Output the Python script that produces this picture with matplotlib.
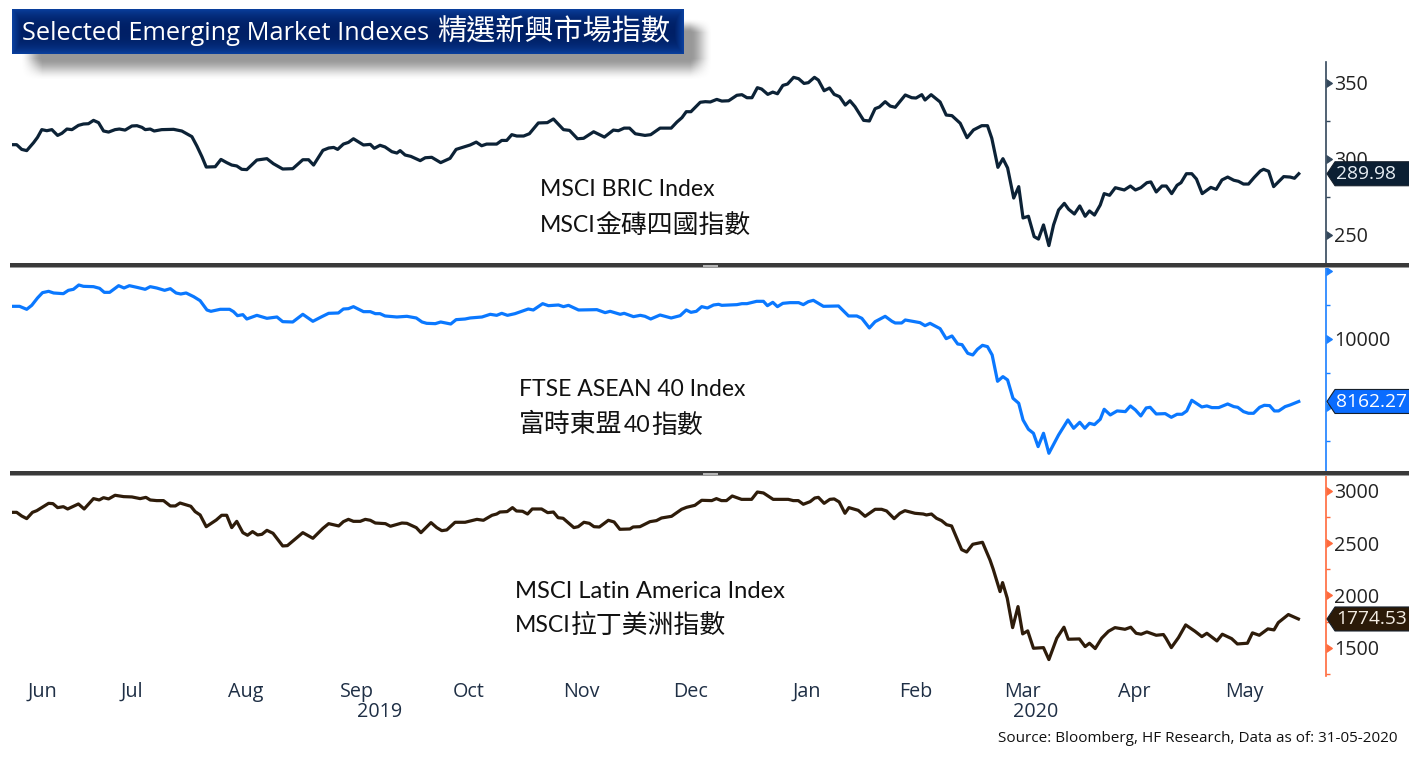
"""
Selected emerging market indexes, three stacked panels (Bloomberg style)
"""
import numpy as np
import matplotlib
matplotlib.use('Agg')
import matplotlib.pyplot as plt
from matplotlib.patches import Polygon, Rectangle

W, H = 1409, 759
LATIN = ['Open Sans', 'Noto Sans CJK TC']
BODY = ['Lato', 'Noto Sans CJK TC']
CJK = ['Noto Sans CJK TC']

# x values are calendar days counted from the left edge of the chart (early Jun 2019)
bric_days = [
    0.0, 1.3, 2.7, 4.1, 6.0, 7.1, 8.3, 9.7, 11.1, 12.7,
    13.9, 15.3, 16.7, 18.5, 19.9, 21.3, 22.7, 24.1, 25.5, 26.9,
    28.7, 29.9, 31.5, 33.4, 34.8, 36.2, 37.1, 38.5, 39.6, 41.7,
    45.0, 47.3, 50.1, 51.5, 52.9, 54.1, 56.6, 58.2, 59.8, 61.2,
    62.6, 64.0, 65.4, 68.2, 71.0, 72.8, 75.4, 78.2, 81.0, 82.6,
    84.0, 86.6, 88.2, 89.6, 90.7, 92.3, 93.7, 95.1, 97.9, 99.8,
    100.9, 102.5, 103.9, 105.8, 107.2, 108.1, 109.5, 111.1, 113.7, 115.1,
    116.9, 119.4, 122.0, 123.7, 127.6, 129.3, 130.8, 132.2, 135.0, 136.4,
    137.8, 139.2, 140.6, 142.5, 144.1, 146.6, 149.1, 150.8, 153.6, 155.3,
    157.5, 159.2, 162.0, 165.0, 167.5, 168.9, 170.5, 172.0, 173.6, 176.3,
    177.9, 180.5, 183.6, 185.2, 186.6, 187.8, 189.1, 191.7, 193.1, 194.5,
    196.3, 197.7, 199.6, 201.9, 203.3, 204.7, 206.1, 207.6, 208.8, 210.5,
    211.9, 213.2, 214.7, 216.0, 217.7, 219.1, 220.6, 221.8, 223.5, 224.6,
    226.2, 227.7, 229.0, 230.5, 232.1, 233.4, 234.8, 237.2, 238.8, 240.4,
    241.6, 243.2, 244.6, 246.0, 248.8, 250.6, 251.8, 253.4, 254.3, 256.0,
    258.5, 260.2, 261.8, 264.1, 266.0, 267.8, 270.1, 271.7, 272.9, 274.6,
    276.0, 277.3, 279.0, 280.4, 281.6, 283.1, 284.7, 285.9, 287.3, 288.8,
    290.1, 291.5, 293.1, 294.3, 295.9, 297.4, 298.9, 300.1, 301.5, 303.1,
    304.2, 305.7, 307.3, 309.8, 311.5, 312.9, 314.4, 316.1, 317.2, 318.7,
    320.3, 321.5, 323.0, 324.5, 325.6, 327.1, 328.6, 329.9, 331.5, 333.9,
    335.4, 337.0, 338.6, 340.3, 341.6, 343.0, 344.4, 346.0, 347.7, 348.6,
    350.0, 351.4, 354.2, 356.0, 357.2, 358.4]
bric_values = [
    309.1, 309.1, 306.0, 305.2, 310.4, 313.9, 319.0, 318.3, 319.0, 315.2,
    316.6, 319.4, 319.0, 321.8, 322.7, 322.9, 325.1, 323.6, 318.1, 317.4,
    319.0, 319.4, 318.7, 321.4, 321.6, 320.5, 319.0, 319.4, 318.1, 319.0,
    319.2, 318.1, 314.4, 308.2, 301.2, 294.4, 294.6, 299.4, 297.3, 295.7,
    295.1, 292.9, 292.7, 299.0, 299.9, 296.6, 293.1, 293.3, 299.2, 299.2,
    295.7, 305.4, 306.9, 307.3, 306.0, 309.5, 310.6, 313.0, 308.9, 309.3,
    306.7, 308.7, 307.6, 304.5, 303.6, 305.2, 302.3, 301.4, 298.6, 300.5,
    300.8, 297.3, 300.1, 306.0, 308.9, 310.8, 308.4, 309.5, 309.5, 311.9,
    311.9, 315.7, 314.8, 314.8, 316.3, 323.4, 323.6, 326.0, 319.0, 318.5,
    313.0, 313.3, 317.6, 314.1, 318.7, 318.3, 320.0, 320.0, 316.3, 315.2,
    315.7, 320.0, 320.0, 324.0, 326.9, 330.8, 330.8, 337.0, 337.4, 337.2,
    338.9, 337.8, 338.0, 341.6, 342.0, 340.0, 340.0, 346.6, 345.7, 342.2,
    343.7, 342.6, 348.1, 349.0, 353.4, 352.5, 349.4, 349.9, 353.4, 351.6,
    344.6, 346.4, 342.2, 340.7, 335.2, 338.0, 334.1, 325.1, 324.7, 332.8,
    333.9, 337.4, 334.5, 333.7, 341.8, 340.0, 339.8, 342.0, 338.5, 342.0,
    337.2, 328.6, 328.2, 323.2, 313.7, 318.8, 321.6, 321.6, 313.3, 294.2,
    299.9, 293.8, 274.0, 281.5, 260.9, 262.0, 248.6, 247.0, 256.3, 242.7,
    256.3, 266.1, 270.5, 266.6, 263.5, 268.8, 262.0, 265.5, 262.8, 269.4,
    276.9, 275.8, 280.8, 279.3, 281.9, 279.3, 280.8, 284.1, 284.6, 278.0,
    281.9, 281.9, 276.9, 282.4, 284.1, 290.0, 290.0, 286.5, 276.9, 281.0,
    279.7, 285.9, 287.8, 285.7, 285.0, 283.2, 283.2, 287.6, 291.8, 292.9,
    291.6, 281.5, 288.1, 287.8, 287.0, 289.98]

asean_days = [
    0.0, 2.1, 4.1, 5.5, 7.1, 8.5, 10.2, 11.6, 14.3, 15.7,
    17.1, 18.6, 19.9, 22.7, 24.4, 25.7, 27.2, 29.7, 31.2, 32.7,
    34.8, 37.1, 38.5, 40.3, 42.5, 44.1, 45.7, 47.0, 48.5, 50.6,
    52.4, 54.3, 55.4, 58.0, 60.6, 61.7, 62.8, 64.3, 65.4, 68.2,
    71.0, 73.8, 75.4, 78.2, 81.0, 83.8, 86.3, 88.2, 90.9, 92.3,
    93.7, 95.1, 97.9, 99.8, 101.2, 102.5, 103.9, 107.2, 110.0, 112.6,
    114.2, 115.5, 117.9, 119.4, 122.2, 123.7, 126.2, 127.6, 130.9, 133.2,
    135.0, 136.4, 138.0, 140.1, 142.0, 143.8, 145.2, 147.8, 149.4, 152.2,
    153.6, 155.0, 157.8, 162.9, 165.2, 166.6, 169.4, 170.5, 173.1, 175.0,
    176.3, 177.9, 180.5, 183.6, 186.1, 187.8, 189.1, 190.6, 192.1, 193.7,
    195.4, 196.8, 197.7, 201.9, 203.3, 204.7, 207.4, 209.3, 210.4, 211.9,
    213.2, 214.7, 216.7, 219.1, 220.4, 221.8, 223.2, 226.0, 230.2, 233.0,
    235.3, 236.7, 238.8, 240.4, 243.2, 245.1, 246.0, 247.8, 248.8, 252.9,
    254.3, 255.7, 258.5, 260.2, 261.8, 263.4, 264.6, 266.2, 267.6, 268.9,
    270.3, 271.7, 273.0, 274.5, 276.0, 277.3, 278.8, 280.4, 281.6, 283.1,
    284.5, 285.8, 287.3, 288.8, 291.5, 294.1, 295.7, 297.4, 298.8, 300.1,
    301.5, 303.1, 304.2, 305.9, 307.8, 310.1, 311.5, 312.9, 314.4, 315.9,
    317.0, 318.7, 321.2, 322.9, 324.5, 325.9, 327.2, 328.6, 331.4, 332.8,
    334.2, 336.1, 338.6, 340.3, 341.4, 343.0, 344.4, 345.8, 347.5, 348.8,
    350.3, 351.6, 352.8, 354.6, 356.0, 358.4]
asean_values = [
    10961, 10961, 10873, 10990, 11206, 11363, 11402, 11353, 11333, 11431,
    11461, 11588, 11549, 11539, 11490, 11372, 11372, 11568, 11500, 11568,
    11519, 11461, 11539, 11500, 11431, 11480, 11353, 11323, 11353, 11245,
    11127, 10853, 10814, 10873, 10873, 10804, 10686, 10716, 10588, 10696,
    10608, 10647, 10510, 10500, 10726, 10520, 10657, 10755, 10765, 10882,
    10892, 10951, 10804, 10804, 10745, 10745, 10677, 10647, 10667, 10618,
    10500, 10461, 10451, 10500, 10441, 10569, 10588, 10618, 10647, 10726,
    10696, 10755, 10696, 10745, 10814, 10882, 10853, 11039, 10980, 11000,
    10951, 10990, 10853, 10863, 10775, 10814, 10726, 10755, 10657, 10696,
    10667, 10588, 10706, 10618, 10686, 10853, 10784, 10814, 10951, 10912,
    11000, 11020, 10990, 11010, 11039, 11039, 11108, 11108, 10980, 11078,
    10951, 11049, 11069, 11069, 11010, 11098, 11137, 10961, 10971, 10677,
    10677, 10608, 10324, 10510, 10667, 10520, 10471, 10471, 10559, 10481,
    10392, 10461, 10304, 10010, 10089, 9853, 9834, 9579, 9530, 9697,
    9814, 9775, 9530, 8756, 8893, 8795, 8256, 8109, 7619, 7345,
    7227, 6835, 7227, 6639, 7178, 7619, 7374, 7550, 7374, 7521,
    7482, 7639, 7933, 7766, 7884, 7864, 8031, 7913, 7737, 7972,
    7991, 7795, 7805, 7697, 7786, 7786, 7884, 8197, 8001, 8031,
    7982, 7982, 8089, 8011, 7991, 7864, 7815, 7815, 7991, 8050,
    8040, 7884, 7884, 8011, 8060, 8162.27]

latam_days = [
    0.0, 1.3, 2.7, 4.1, 5.7, 6.9, 10.2, 11.4, 12.7, 14.3,
    15.5, 18.5, 20.1, 22.7, 24.3, 25.5, 26.9, 28.7, 31.1, 33.4,
    35.7, 37.3, 38.5, 40.3, 42.2, 44.1, 45.5, 46.8, 49.8, 51.0,
    52.4, 54.1, 56.9, 58.4, 59.8, 61.2, 62.6, 64.3, 65.6, 67.0,
    68.4, 69.6, 71.0, 72.7, 75.4, 76.7, 81.0, 83.8, 86.6, 88.2,
    91.0, 92.3, 93.7, 95.1, 97.0, 98.4, 99.8, 101.2, 104.0, 105.4,
    108.6, 110.0, 112.6, 113.9, 116.7, 118.3, 119.7, 121.1, 123.4, 126.2,
    129.5, 131.3, 133.7, 135.0, 135.9, 137.9, 139.4, 140.5, 142.2, 143.6,
    144.9, 147.5, 149.2, 150.8, 152.1, 153.5, 156.5, 157.7, 159.3, 160.8,
    162.1, 163.6, 166.1, 167.7, 169.3, 172.1, 173.0, 174.9, 177.7, 179.5,
    180.9, 183.7, 186.5, 187.9, 190.2, 192.1, 194.9, 196.2, 197.6, 199.0,
    200.6, 203.2, 206.0, 207.6, 209.3, 212.0, 216.2, 217.6, 219.0, 220.4,
    222.3, 223.6, 224.6, 226.2, 227.8, 229.0, 230.4, 232.0, 233.1, 235.7,
    237.6, 240.4, 242.2, 243.6, 245.7, 247.3, 248.7, 251.5, 253.8, 254.7,
    256.1, 257.5, 258.9, 260.3, 261.7, 264.5, 265.9, 267.6, 270.3, 272.4,
    273.3, 275.2, 275.9, 277.2, 278.7, 280.2, 281.5, 282.9, 284.5, 287.3,
    288.8, 291.0, 293.0, 294.2, 297.3, 298.9, 300.1, 301.7, 303.5, 305.4,
    307.2, 310.0, 311.6, 313.1, 314.5, 316.1, 318.7, 320.7, 321.4, 322.9,
    324.9, 326.9, 329.5, 331.4, 332.8, 335.6, 337.1, 339.7, 341.3, 344.1,
    345.5, 347.4, 349.8, 351.5, 352.7, 355.5, 358.3]
latam_values = [
    2793, 2793, 2758, 2733, 2793, 2809, 2879, 2876, 2838, 2847,
    2825, 2873, 2825, 2924, 2911, 2933, 2921, 2956, 2943, 2940,
    2924, 2936, 2911, 2905, 2905, 2854, 2854, 2882, 2851, 2800,
    2768, 2656, 2720, 2765, 2765, 2647, 2707, 2599, 2574, 2609,
    2577, 2583, 2621, 2593, 2472, 2475, 2599, 2545, 2640, 2685,
    2663, 2704, 2726, 2707, 2707, 2726, 2717, 2691, 2685, 2660,
    2691, 2688, 2647, 2599, 2695, 2647, 2618, 2625, 2698, 2698,
    2726, 2717, 2765, 2777, 2796, 2800, 2838, 2806, 2803, 2777,
    2825, 2825, 2790, 2796, 2742, 2736, 2647, 2656, 2698, 2688,
    2656, 2653, 2717, 2701, 2631, 2634, 2653, 2656, 2704, 2714,
    2739, 2755, 2822, 2841, 2860, 2908, 2905, 2924, 2905, 2905,
    2949, 2917, 2917, 2987, 2978, 2917, 2917, 2905, 2905, 2870,
    2895, 2930, 2936, 2879, 2917, 2921, 2892, 2784, 2838, 2812,
    2755, 2822, 2822, 2806, 2733, 2784, 2809, 2784, 2777, 2768,
    2777, 2736, 2714, 2675, 2663, 2437, 2414, 2488, 2507, 2338,
    2249, 2036, 2122, 1973, 1692, 1893, 1632, 1661, 1495, 1501,
    1387, 1591, 1696, 1581, 1584, 1511, 1543, 1492, 1591, 1657,
    1692, 1676, 1696, 1638, 1629, 1651, 1619, 1626, 1591, 1501,
    1597, 1718, 1657, 1606, 1638, 1565, 1629, 1587, 1536, 1543,
    1642, 1619, 1680, 1670, 1740, 1817, 1774.53]

month_days = [8.6, 33.4, 65.2, 96.1, 127.3, 158.5, 189.1, 221.4, 251.7, 281.5, 312.7, 343.3]
month_labels = ['Jun', 'Jul', 'Aug', 'Sep', 'Oct', 'Nov', 'Dec', 'Jan', 'Feb', 'Mar', 'Apr', 'May']

DAYS_END = 365.9


def px_axes(fig, left, top, right, bottom):
    return fig.add_axes([left / W, 1 - bottom / H, (right - left) / W, (bottom - top) / H])


def style_panel(ax, ylim, majors, major_labels, minors, axis_color):
    ax.set_xlim(0, DAYS_END)
    ax.set_ylim(*ylim)
    for name in ['top', 'left', 'bottom']:
        ax.spines[name].set_visible(False)
    ax.spines['right'].set_color(axis_color)
    ax.spines['right'].set_linewidth(1.2)
    ax.patch.set_alpha(0)
    ax.yaxis.tick_right()
    ax.set_yticks(majors)
    ax.set_yticklabels(major_labels, fontsize=14.2, color='#222222', family=LATIN)
    ax.set_yticks(minors, minor=True)
    ax.tick_params(axis='y', which='major', pad=2.5, color=axis_color)
    ax.tick_params(axis='y', which='minor', length=3, width=1, color=axis_color)
    for tick in ax.yaxis.get_major_ticks():
        tick.tick2line.set_marker(9)
        tick.tick2line.set_markersize(5.5)
        tick.tick2line.set_markerfacecolor(axis_color)
        tick.tick2line.set_markeredgecolor(axis_color)
    ax.tick_params(axis='x', which='both', length=0, labelbottom=False)


fig = plt.figure(figsize=(W / 100, H / 100), dpi=100, facecolor='white')

ax1 = px_axes(fig, 12, 62, 1325.7, 264)
ax2 = px_axes(fig, 12, 268, 1325.7, 472)
ax3 = px_axes(fig, 12, 476, 1325.7, 676)

ax1.plot(bric_days, bric_values, color='#0c2236', lw=2.3, solid_joinstyle='round')
ax2.plot(asean_days, asean_values, color='#0a78ff', lw=2.3, solid_joinstyle='round')
ax3.plot(latam_days, latam_values, color='#2e1c0a', lw=2.3, solid_joinstyle='round')

style_panel(ax1, (230.6, 363.5), [250, 300, 350], ['250', '300', '350'], [275, 325], '#33475b')
style_panel(ax2, (6088, 12088), [8000, 10000, 12000], ['', '10000', ''], [7000, 9000, 11000], '#1a7fff')
style_panel(ax3, (1230, 3140), [1500, 2000, 2500, 3000], ['1500', '2000', '2500', '3000'],
            [1250, 1750, 2250, 2750], '#ff6a3c')

ax3.set_xticks(month_days)
ax3.set_xticklabels(month_labels, fontsize=14.2, color='#1f2f45', family=LATIN)
ax3.tick_params(axis='x', labelbottom=True, pad=4)

# overlay in pixel coordinates for title box, separators, tags and notes
ov = fig.add_axes([0, 0, 1, 1], zorder=10)
ov.patch.set_alpha(0)
ov.axis('off')

# blurred shadow behind the title box
yy, xx = np.mgrid[10:95, 10:730]
edge = lambda d, soft: np.clip(d / soft, 0, 1)
shade = (edge(xx - 20, 22) * edge(712 - xx, 22) * edge(yy - 18, 14) * edge(80 - yy, 22))
shadow = np.zeros(shade.shape + (4,))
shadow[..., :3] = 0.30
shadow[..., 3] = 0.58 * shade * shade * (3 - 2 * shade)
ov.imshow(shadow, extent=(10, 730, 95, 10), aspect='auto', interpolation='bilinear', zorder=1)

# title box with bevelled edges
yy, xx = np.mgrid[0:45, 0:672]
dv = np.abs(2 * (yy + 0.5) / 45 - 1) ** 2.5
dh = np.clip(1 - np.minimum(xx, 671 - xx) / 9, 0, 1)
mix = np.maximum(dv, dh)[..., None]
box = (1 - mix) * np.array([0.0, 0.125, 0.40]) + mix * np.array([0.04, 0.25, 0.62])
ov.imshow(box, extent=(12, 684, 54, 9), aspect='auto', interpolation='bilinear', zorder=2)

ov.set_xlim(0, W)
ov.set_ylim(H, 0)

ov.text(22, 34, 'Selected Emerging Market Indexes', color='white', fontsize=18.3, family=LATIN,
        va='center', ha='left', zorder=3)
ov.text(670, 32, '精選新興市場指數', color='white', fontsize=21, family=CJK,
        va='center', ha='right', zorder=3)

# panel separators with the small drag handle
for top in [263, 471]:
    ov.add_patch(Rectangle((10, top), W - 10, 5, fc='#3a3a3a', ec='none', zorder=4))
    ov.add_patch(Rectangle((10, top + 4), W - 10, 1, fc='#9a9a9a', ec='none', zorder=4))
    ov.add_patch(Rectangle((703, top + 2), 15, 2, fc='#b5b5b5', ec='none', zorder=5))

# last value tags, placed from each axis' own scale
tags = [(ax1, bric_values[-1], '289.98', '#0b1f33', '#e6edf3'),
        (ax2, asean_values[-1], '8162.27', '#0a6cff', '#ffffff'),
        (ax3, latam_values[-1], '1774.53', '#2b1a08', '#f3ece2')]
for ax, value, label, fill, ink in tags:
    fig.canvas.draw()
    y = H - ax.transData.transform((0, value))[1]
    pts = [(1327, y), (1335, y - 12), (W + 2, y - 12), (W + 2, y + 12), (1335, y + 12)]
    ov.add_patch(Polygon(pts, closed=True, fc=fill, ec='#16202c', lw=0.8, zorder=6))
    ov.text(1336, y + 0.5, label, color=ink, fontsize=13.8, family=LATIN, va='center', ha='left', zorder=7)

# index names, the Chinese glyphs are set larger than the Latin ones
latin_notes = [(540, 190, 'MSCI BRIC Index', 16.6), (540, 226, 'MSCI', 16.6),
               (519, 390, 'FTSE ASEAN 40 Index', 16.5), (624, 426, '40', 16.6),
               (515, 591, 'MSCI Latin America Index', 17.1), (515, 626, 'MSCI', 16.6)]
cjk_notes = [(595, 225, '金磚四國指數'), (519, 425, '富時東盟'), (651, 425, '指數'), (571, 625, '拉丁美洲指數')]
for x, y, label, size in latin_notes:
    ov.text(x, y, label, fontsize=size, family=BODY, color='#111111', va='center', ha='left', zorder=3)
for x, y, label in cjk_notes:
    ov.text(x, y, label, fontsize=18.6, family=CJK, color='#111111', va='center', ha='left', zorder=3)

ov.text(380, 712, '2019', fontsize=14.2, family=LATIN, color='#1f2f45', va='center', ha='center')
ov.text(1036, 712, '2020', fontsize=14.2, family=LATIN, color='#1f2f45', va='center', ha='center')
ov.text(1398, 738, 'Source: Bloomberg, HF Research, Data as of: 31-05-2020', fontsize=11, family=LATIN,
        color='#111111', va='center', ha='right')

fig.savefig('out.png', dpi=100)
